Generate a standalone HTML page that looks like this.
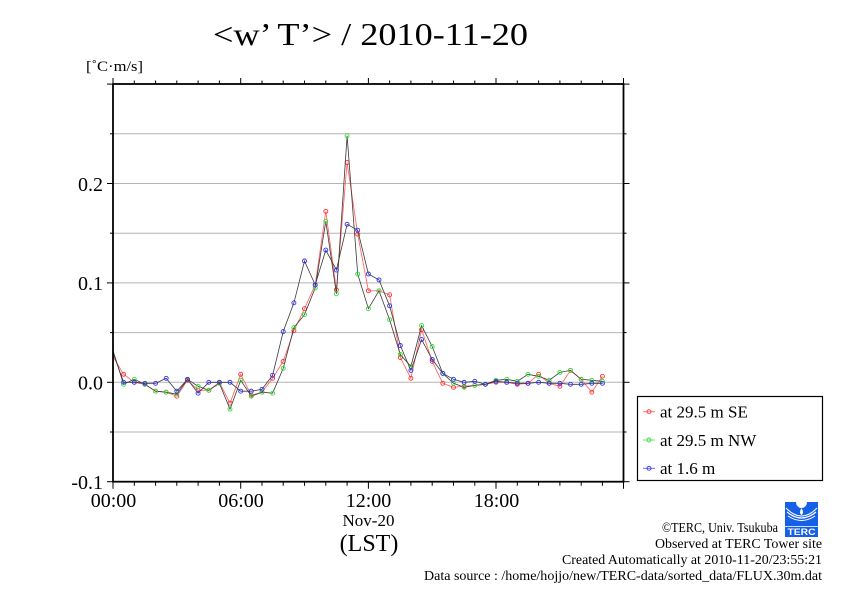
<!DOCTYPE html>
<html>
<head>
<meta charset="utf-8">
<style>
html,body{margin:0;padding:0;background:#fff;}
svg{display:block;}
text{font-family:"Liberation Serif","DejaVu Serif",serif;fill:#000;}
</style>
</head>
<body>
<svg width="842" height="595" viewBox="0 0 842 595" xmlns="http://www.w3.org/2000/svg">
<defs>
<marker id="mr" markerUnits="userSpaceOnUse" markerWidth="6" markerHeight="6" refX="3" refY="3" viewBox="0 0 6 6"><circle cx="3" cy="3" r="2" fill="none" stroke="#ff3030" stroke-width="0.9"/></marker>
<marker id="mg" markerUnits="userSpaceOnUse" markerWidth="6" markerHeight="6" refX="3" refY="3" viewBox="0 0 6 6"><circle cx="3" cy="3" r="2" fill="none" stroke="#30e030" stroke-width="0.9"/></marker>
<marker id="mb" markerUnits="userSpaceOnUse" markerWidth="6" markerHeight="6" refX="3" refY="3" viewBox="0 0 6 6"><circle cx="3" cy="3" r="2" fill="none" stroke="#3030ff" stroke-width="0.9"/></marker>
<clipPath id="pc"><rect x="113" y="84" width="510.5" height="397.7"/></clipPath>
</defs>

<!-- title -->
<text x="213" y="45" font-size="32" textLength="315" lengthAdjust="spacingAndGlyphs">&lt;w’ T’&gt; / 2010-11-20</text>
<text x="86" y="71" font-size="15" textLength="57" lengthAdjust="spacingAndGlyphs">[˚C·m/s]</text>

<!-- gridlines -->
<g stroke="#b4b4b4" stroke-width="1">
<line x1="113" y1="133.8" x2="623.5" y2="133.8"/>
<line x1="113" y1="183.5" x2="623.5" y2="183.5"/>
<line x1="113" y1="233.2" x2="623.5" y2="233.2"/>
<line x1="113" y1="282.9" x2="623.5" y2="282.9"/>
<line x1="113" y1="332.6" x2="623.5" y2="332.6"/>
<line x1="113" y1="382.3" x2="623.5" y2="382.3"/>
<line x1="113" y1="432.0" x2="623.5" y2="432.0"/>
</g>

<!-- series -->
<g clip-path="url(#pc)" fill="none">
<polyline stroke="#ff6a6a" stroke-width="0.9" marker-mid="url(#mr)" marker-end="url(#mr)" points="113.0,356.5 123.6,374.3 134.3,382.3 144.9,384.3 155.6,391.2 166.2,392.2 176.8,396.2 187.5,380.3 198.1,390.3 208.8,390.3 219.4,382.3 230.0,403.2 240.7,374.3 251.3,395.2 262.0,392.2 272.6,378.3 283.2,361.4 293.9,330.6 304.5,308.7 315.2,284.9 325.8,211.3 336.4,289.9 347.1,162.6 357.7,234.2 368.4,290.8 379.0,290.8 389.6,294.8 400.3,357.5 410.9,378.3 421.6,329.6 432.2,361.4 442.8,383.3 453.5,387.3 464.1,386.3 474.8,385.3 485.4,384.3 496.0,382.3 506.7,382.3 517.3,384.3 528.0,383.3 538.6,374.3 549.2,383.3 559.9,386.3 570.5,370.4 581.2,379.3 591.8,392.2 602.4,376.3"/>
<polyline stroke="#3a3a3a" stroke-width="0.8" marker-mid="url(#mg)" marker-end="url(#mg)" points="113.0,350.5 123.6,384.3 134.3,379.3 144.9,384.3 155.6,391.2 166.2,392.2 176.8,394.2 187.5,379.3 198.1,386.3 208.8,390.3 219.4,383.3 230.0,409.1 240.7,380.3 251.3,396.2 262.0,392.2 272.6,393.2 283.2,368.4 293.9,327.6 304.5,314.7 315.2,287.9 325.8,221.3 336.4,293.8 347.1,135.8 357.7,274.0 368.4,308.7 379.0,290.8 389.6,319.7 400.3,354.5 410.9,366.4 421.6,325.6 432.2,346.5 442.8,373.4 453.5,383.3 464.1,387.3 474.8,385.3 485.4,384.3 496.0,380.3 506.7,379.3 517.3,381.3 528.0,374.3 538.6,376.3 549.2,380.3 559.9,372.4 570.5,370.4 581.2,379.3 591.8,380.3 602.4,381.3"/>
<polyline stroke="#3a3a3a" stroke-width="0.8" marker-mid="url(#mb)" marker-end="url(#mb)" points="113.0,352.5 123.6,382.3 134.3,382.3 144.9,383.3 155.6,383.3 166.2,378.3 176.8,391.2 187.5,379.3 198.1,393.2 208.8,382.3 219.4,382.3 230.0,382.3 240.7,391.2 251.3,391.2 262.0,389.3 272.6,375.3 283.2,331.6 293.9,302.8 304.5,261.0 315.2,284.9 325.8,250.1 336.4,270.0 347.1,224.3 357.7,230.2 368.4,274.0 379.0,279.9 389.6,305.8 400.3,345.5 410.9,370.4 421.6,339.6 432.2,359.4 442.8,373.4 453.5,379.3 464.1,382.3 474.8,381.3 485.4,384.3 496.0,381.3 506.7,382.3 517.3,383.3 528.0,383.3 538.6,382.3 549.2,383.3 559.9,383.3 570.5,384.3 581.2,384.3 591.8,383.3 602.4,383.3"/>
</g>

<!-- frame -->
<rect x="113" y="84" width="510.5" height="397.7" fill="none" stroke="#000" stroke-width="1.8"/>

<!-- ticks -->
<g stroke="#000" stroke-width="1">
<line x1="107" y1="481.7" x2="113" y2="481.7"/>
<line x1="107" y1="382.3" x2="113" y2="382.3"/>
<line x1="107" y1="282.9" x2="113" y2="282.9"/>
<line x1="107" y1="183.5" x2="113" y2="183.5"/>
<line x1="107" y1="84.1" x2="113" y2="84.1"/>
<line x1="110" y1="432.0" x2="113" y2="432.0"/>
<line x1="110" y1="332.6" x2="113" y2="332.6"/>
<line x1="110" y1="233.2" x2="113" y2="233.2"/>
<line x1="110" y1="133.8" x2="113" y2="133.8"/>
<line x1="623.5" y1="481.7" x2="629.5" y2="481.7"/>
<line x1="623.5" y1="382.3" x2="629.5" y2="382.3"/>
<line x1="623.5" y1="282.9" x2="629.5" y2="282.9"/>
<line x1="623.5" y1="183.5" x2="629.5" y2="183.5"/>
<line x1="623.5" y1="84.1" x2="629.5" y2="84.1"/>
<line x1="623.5" y1="432.0" x2="626.5" y2="432.0"/>
<line x1="623.5" y1="332.6" x2="626.5" y2="332.6"/>
<line x1="623.5" y1="233.2" x2="626.5" y2="233.2"/>
<line x1="623.5" y1="133.8" x2="626.5" y2="133.8"/>
</g>
<g stroke="#000" stroke-width="1">
<path d="M134.3 481.7v4 M155.6 481.7v4 M176.8 481.7v4 M198.1 481.7v4 M219.4 481.7v4 M262.0 481.7v4 M283.2 481.7v4 M304.5 481.7v4 M325.8 481.7v4 M347.1 481.7v4 M389.6 481.7v4 M410.9 481.7v4 M432.2 481.7v4 M453.5 481.7v4 M474.8 481.7v4 M517.3 481.7v4 M538.6 481.7v4 M559.9 481.7v4 M581.2 481.7v4 M602.4 481.7v4"/>
<path d="M113 481.7v7 M240.7 481.7v7 M368.4 481.7v7 M496.0 481.7v7 M623.5 481.7v7"/>
<path d="M134.3 84v-3.5 M155.6 84v-3.5 M176.8 84v-3.5 M198.1 84v-3.5 M219.4 84v-3.5 M262.0 84v-3.5 M283.2 84v-3.5 M304.5 84v-3.5 M325.8 84v-3.5 M347.1 84v-3.5 M389.6 84v-3.5 M410.9 84v-3.5 M432.2 84v-3.5 M453.5 84v-3.5 M474.8 84v-3.5 M517.3 84v-3.5 M538.6 84v-3.5 M559.9 84v-3.5 M581.2 84v-3.5 M602.4 84v-3.5"/>
<path d="M113 84v-6 M240.7 84v-6 M368.4 84v-6 M496.0 84v-6 M623.5 84v-6"/>
</g>

<!-- y tick labels -->
<g font-size="20" text-anchor="end">
<text x="103" y="191">0.2</text>
<text x="103" y="290">0.1</text>
<text x="103" y="389.5">0.0</text>
<text x="103" y="489">-0.1</text>
</g>
<!-- x tick labels -->
<g font-size="20" text-anchor="middle">
<text x="113.5" y="507">00:00</text>
<text x="241" y="507">06:00</text>
<text x="368.5" y="507">12:00</text>
<text x="496.5" y="507">18:00</text>
</g>
<text x="368.5" y="526" font-size="17" text-anchor="middle">Nov-20</text>
<text x="369" y="551" font-size="24" text-anchor="middle">(LST)</text>

<!-- legend -->
<rect x="637.5" y="396.5" width="185" height="84" fill="#fff" stroke="#000" stroke-width="1.2"/>
<line x1="643" y1="411.7" x2="655" y2="411.7" stroke="#ff6a6a" stroke-width="0.9"/>
<circle cx="649" cy="411.7" r="2" fill="none" stroke="#ff3030" stroke-width="0.9"/>
<line x1="643" y1="440" x2="655" y2="440" stroke="#60e060" stroke-width="0.9"/>
<circle cx="649" cy="440" r="2" fill="none" stroke="#30e030" stroke-width="0.9"/>
<line x1="643" y1="468.3" x2="655" y2="468.3" stroke="#6060ff" stroke-width="0.9"/>
<circle cx="649" cy="468.3" r="2" fill="none" stroke="#3030ff" stroke-width="0.9"/>
<g font-size="17">
<text x="660" y="417.5">at 29.5 m SE</text>
<text x="660" y="446">at 29.5 m NW</text>
<text x="660" y="474">at 1.6 m</text>
</g>

<!-- footer -->
<g font-size="14">
<text x="662" y="532" textLength="116" lengthAdjust="spacingAndGlyphs">©TERC, Univ. Tsukuba</text>
<text x="655" y="548" textLength="167" lengthAdjust="spacingAndGlyphs">Observed at TERC Tower site</text>
<text x="562" y="564" textLength="260" lengthAdjust="spacingAndGlyphs">Created Automatically at 2010-11-20/23:55:21</text>
<text x="424" y="580" textLength="398" lengthAdjust="spacingAndGlyphs">Data source : /home/hojjo/new/TERC-data/sorted_data/FLUX.30m.dat</text>
</g>

<!-- logo -->
<g>
<rect x="785" y="502" width="33" height="35" fill="#1560e6"/>
<path d="M796 502 a5.5 6 0 0 0 11 0 z" fill="#fff"/>
<path d="M801.5 508 q-3 5 0 7 q3 -2 0 -7z" fill="#fff"/>
<path d="M787 512 q14.5 12 29 0" fill="none" stroke="#fff" stroke-width="1.2"/>
<path d="M788 516 q13.5 9 27 0" fill="none" stroke="#fff" stroke-width="1"/>
<path d="M786 508 q15.5 16 31 0" fill="none" stroke="#fff" stroke-width="1"/>
<rect x="785" y="526" width="33" height="0.8" fill="#fff"/>
<text x="801.5" y="535" font-size="9" font-weight="bold" text-anchor="middle" textLength="28" lengthAdjust="spacingAndGlyphs" style="fill:#fff;font-family:'Liberation Sans',sans-serif;">TERC</text>
</g>
</svg>
</body>
</html>
